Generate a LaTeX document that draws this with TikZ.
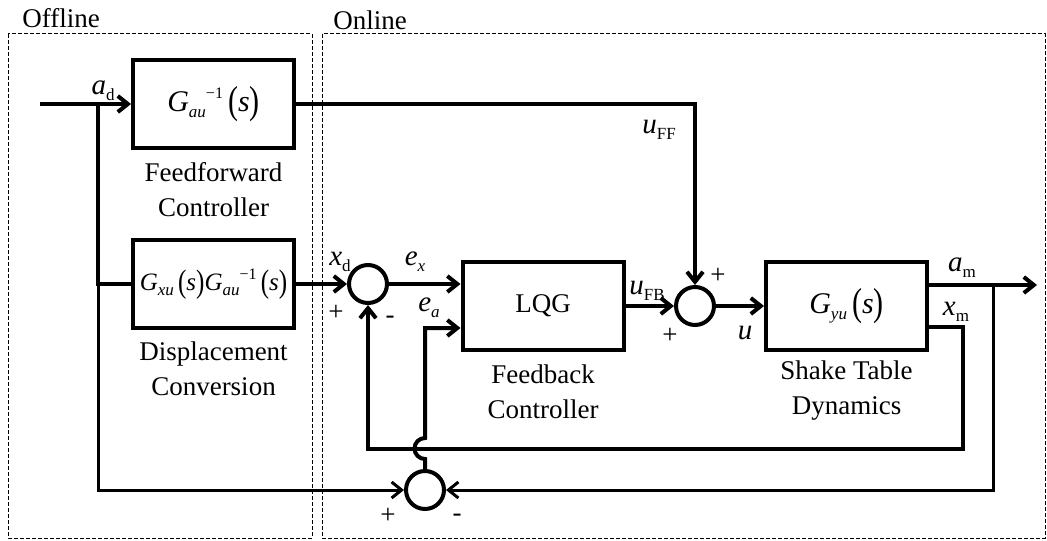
\documentclass[tikz,border=0pt]{standalone}
\usepackage{fontspec}
\setmainfont{Liberation Serif}
\usetikzlibrary{arrows.meta,calc}
\newcommand{\vv}[1]{\textit{#1}}
\newcommand{\lo}[1]{\raisebox{-0.45ex}{\fontsize{8.5}{9}\selectfont #1}}
\newcommand{\hi}[1]{\raisebox{0.95ex}{\fontsize{8}{9}\selectfont #1}}
\newcommand{\lp}{\raisebox{-0.15ex}{\scalebox{1}[1.3]{(}}}
\newcommand{\rp}{\raisebox{-0.15ex}{\scalebox{1}[1.3]{)}}}
\begin{document}
\begin{tikzpicture}[x=0.5pt,y=-0.5pt,
  font=\fontsize{13.5}{17.5}\selectfont,
  blk/.style={draw, line width=2pt, minimum width=80.5pt, minimum height=44pt, inner sep=0pt},
  sumj/.style={draw, circle, line width=2pt, minimum size=19pt, inner sep=0pt},
  wire/.style={line width=2pt},
  arr/.style={wire, -{Straight Barb[length=5pt,width=8pt]}},
  lowwire/.style={line width=1.5pt},
  lowarr/.style={lowwire, -{Straight Barb[length=5pt,width=8pt]}},
  zone/.style={draw, line width=0.5pt, dash pattern=on 2pt off 1pt},
  lbl/.style={align=center, inner sep=0pt},
  sig/.style={inner sep=0pt, font=\fontsize{14.5}{17}\selectfont}
]
\useasboundingbox (0,0) rectangle (1047,540);
% zones
\draw[zone] (8,34) rectangle (312,538);
\draw[zone] (322,34) rectangle (1045,538);
\node[lbl] (toff) at (61,18) {Offline};
\node[lbl] (ton) at (370,20) {Online};
% blocks
\node[blk, font=\fontsize{15}{17}\selectfont] (ff) at (213.5,104) {\vv{G}\lo{\vv{au}}\hi{−1}\,\lp\vv{s}\rp};
\node[blk, font=\fontsize{12.5}{15}\selectfont] (disp) at (213.5,284) {\vv{G}\lo{\vv{xu}}\,\lp\vv{s}\rp\vv{G}\lo{\vv{au}}\hi{−1}\,\lp\vv{s}\rp};
\node[blk] (lqg) at (543,306) {LQG};
\node[blk, font=\fontsize{15}{17}\selectfont] (gyu) at (846.5,306) {\vv{G}\lo{\vv{yu}}\,\lp\vv{s}\rp};
\node[lbl] (tff) at (213.5,190) {Feedforward\\Controller};
\node[lbl] (tdisp) at (213.5,369) {Displacement\\Conversion};
\node[lbl] (tlqg) at (543,392) {Feedback\\Controller};
\node[lbl] (tgyu) at (846.5,391) {Shake Table\\Dynamics};
% summing junctions
\node[sumj] (s1) at (368,284) {};
\node[sumj] (s2) at (695,306) {};
\node[sumj] (s3) at (425,490) {};
% coordinates
\coordinate (in) at (40,104);
\coordinate (bra) at (98,104);
\coordinate (brd) at (98,284);
\coordinate (brb) at (98,490);
\coordinate (ffc) at (695,104);
\coordinate (amo) at (1037,285);
\coordinate (amb) at (993,285);
\coordinate (amd) at (993,490);
\coordinate (xm0) at (927,327);
\coordinate (xm1) at (963,327);
\coordinate (xm2) at (963,449);
\coordinate (xm3) at (368,449);
\coordinate (ea0) at (425,459);
\coordinate (ea1) at (425,328);
% connectors
\draw[arr] (in) -- (ff.west);
\draw[wire] (bra) -- (brd) -- (disp.west);
\draw[lowarr] (brd) -- (brb) -- (s3.west);
\draw[arr] (ff.east) -- (ffc) -- (s2.north);
\draw[arr] (disp.east) -- (s1.west);
\draw[arr] (s1.east) -- (s1.east -| lqg.west);
\draw[arr] (s3.north) -- (ea0) arc (90:270:10.5) -- (ea1) -- (ea1 -| lqg.west);
\draw[arr] (lqg.east) -- (s2.west);
\draw[arr] (s2.east) -- (gyu.west);
\draw[arr] (amo -| gyu.east) -- (amo);
\draw[lowarr] (amb) -- (amd) -- (s3.east);
\draw[arr] (xm0) -- (xm1) -- (xm2) -- (xm3) -- (s1.south);
% signal labels
\node[sig] (lad) at (103,91) {\vv{a}\lo{d}};
\node[sig] (lxd) at (340,262) {\vv{x}\lo{d}};
\node[lbl] (lp1) at (336,313) {+};
\node[lbl] (lm1) at (390,320) {-};
\node[sig] (lex) at (415,262) {\vv{e}\lo{\vv{x}}};
\node[sig] (lea) at (429,308) {\vv{e}\lo{\vv{a}}};
\node[sig] (lufb) at (647,291) {\vv{u}\lo{FB}};
\node[sig] (luff) at (659,130) {\vv{u}\lo{FF}};
\node[lbl] (lp2) at (718,276) {+};
\node[lbl] (lp3) at (670,336) {+};
\node[sig] (lu) at (745,333) {\vv{u}};
\node[sig] (lam) at (962,268) {\vv{a}\lo{m}};
\node[sig] (lxm) at (956,312) {\vv{x}\lo{m}};
\node[lbl] (lp4) at (388,516) {+};
\node[lbl] (lm4) at (457,518) {-};
\end{tikzpicture}
\end{document}
